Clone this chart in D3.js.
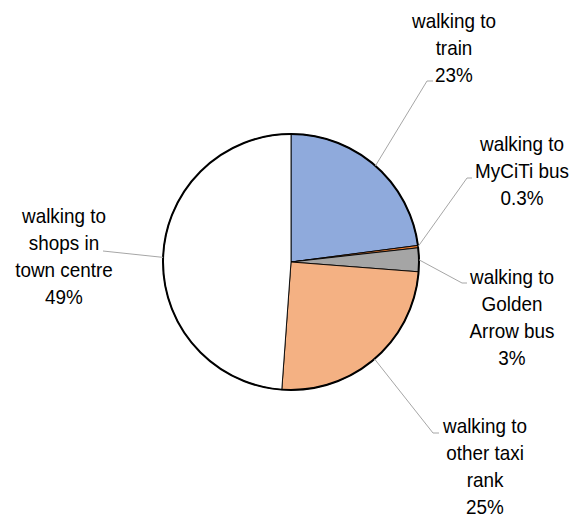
<!DOCTYPE html>
<html>
<head>
<meta charset="utf-8">
<script src="https://cdn.jsdelivr.net/npm/d3@7"></script>
<style>
  body { margin: 0; background: #fff; }
  svg text { font-family: "Liberation Sans Narrow", "Arial Narrow", "Liberation Sans", sans-serif; fill: #000; }
</style>
</head>
<body>
<div id="chart"></div>
<script>
// data
const categories = [
  ['walking to', 'train'],
  ['walking to', 'MyCiTi bus'],
  ['walking to', 'Golden', 'Arrow bus'],
  ['walking to', 'other taxi', 'rank'],
  ['walking to', 'shops in', 'town centre']
];
const values = [23, 0.3, 3, 25, 49];
const colors = ['#8faadc', '#ed7d31', '#a5a5a5', '#f4b183', '#ffffff'];

const width = 578, height = 518,
      cx = 291, cy = 262, radius = 128;

// label layout: centre x, first baseline, leader elbow
const labelLayout = [
  {x: 454, y: 28,  elbow: [427, 81],  end: [433, 81]},
  {x: 522, y: 151, elbow: [467, 178], end: [472, 178]},
  {x: 512, y: 284, elbow: [462, 283], end: [467, 283]},
  {x: 485, y: 433, elbow: [433, 433], end: [439, 433]},
  {x: 64,  y: 223, elbow: [103, 251], end: [103, 251]}
];
const lineH = 27;

const svg = d3.select('#chart').append('svg')
  .attr('width', width)
  .attr('height', height);

const pie = d3.pie().sort(null).value(d => d)(values);
const arc = d3.arc().innerRadius(0).outerRadius(radius);

const g = svg.append('g').attr('transform', `translate(${cx},${cy})`);

g.selectAll('path.slice')
  .data(pie)
  .enter()
  .append('path')
    .attr('class', 'slice')
    .attr('d', arc)
    .attr('fill', (d, i) => colors[i])
    .attr('stroke', '#000')
    .attr('stroke-width', 0.9)
    .attr('stroke-linejoin', 'round');

// heavier outer rim
g.append('circle')
  .attr('r', radius)
  .attr('fill', 'none')
  .attr('stroke', '#000')
  .attr('stroke-width', 2);

// leader lines
pie.forEach((d, i) => {
  let mid = (d.startAngle + d.endAngle) / 2,
      sx = cx + radius * Math.sin(mid),
      sy = cy - radius * Math.cos(mid),
      L = labelLayout[i];
  svg.append('polyline')
    .attr('points', [[sx, sy], L.elbow, L.end].map(p => p.join(',')).join(' '))
    .attr('fill', 'none')
    .attr('stroke', '#a6a6a6')
    .attr('stroke-width', 1);
});

// labels (squeezed horizontally to look like a narrow face)
categories.forEach((lines, i) => {
  let L = labelLayout[i],
      t = svg.append('text')
        .attr('transform', `translate(${L.x},0) scale(0.9,1)`)
        .attr('text-anchor', 'middle')
        .style('font-size', '21px');
  lines.concat([values[i] + '%']).forEach((s, j) => {
    t.append('tspan')
      .attr('x', 0)
      .attr('y', L.y + j * lineH)
      .text(s);
  });
});
</script>
</body>
</html>
